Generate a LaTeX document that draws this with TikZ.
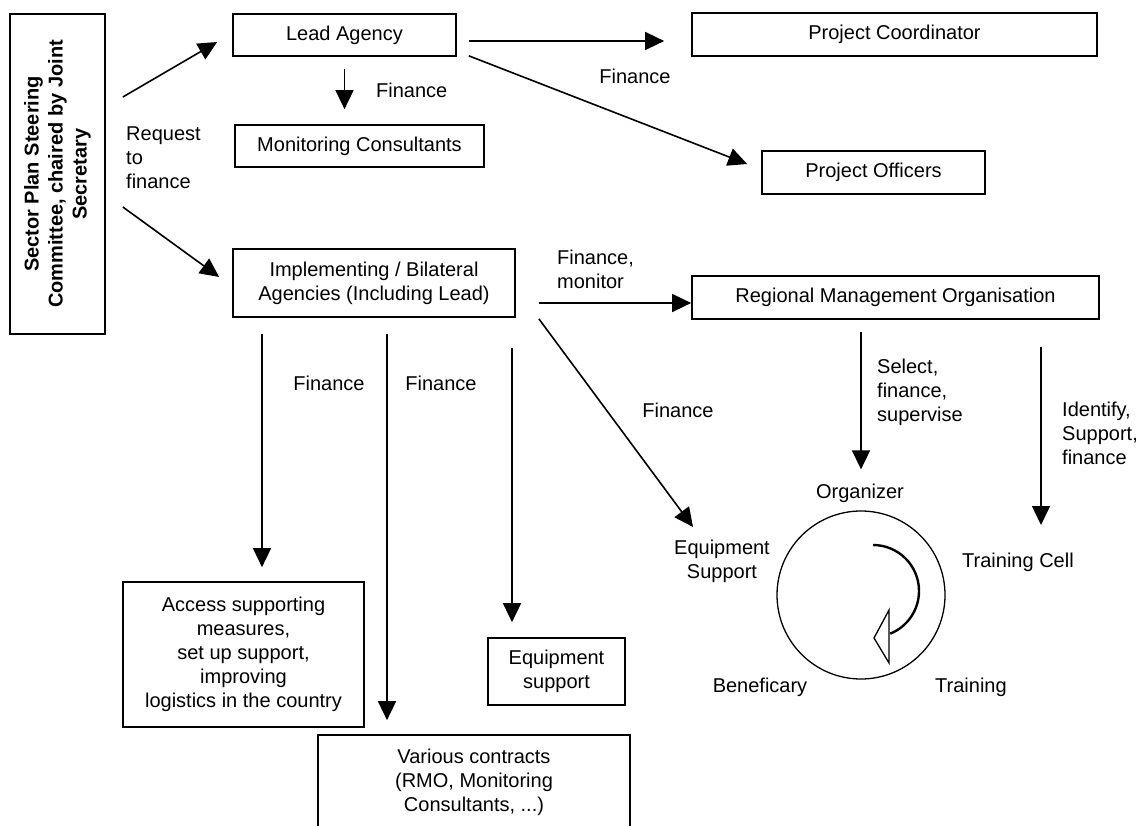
\documentclass[tikz,border=0pt]{standalone}
\usepackage{fontspec}
\setmainfont{Liberation Sans}
\usetikzlibrary{arrows.meta}

\begin{document}
\begin{tikzpicture}[x=1pt, y=-1pt,
  every node/.style={font=\fontsize{20}{24}\selectfont, inner sep=0pt},
  box/.style={draw, line width=1.7pt, align=center},
  flow/.style={line width=1.6pt, -{Triangle[length=19pt,width=18pt]}},
  lbl/.style={align=left}]
  \useasboundingbox (0,0) rectangle (1142,826);
  \node[box, rotate=90, minimum width=320pt, minimum height=95pt, font=\fontsize{20}{24}\selectfont\bfseries] (steer) at (57.5,174) {Sector Plan Steering\\Committee, chaired by Joint\\Secretary};
  \node[box, minimum width=223pt, minimum height=42pt] (lead) at (344.5,35) {Lead Agency};
  \node[box, minimum width=249pt, minimum height=42pt] (moni) at (359.5,146) {Monitoring Consultants};
  \node[box, minimum width=282pt, minimum height=68pt] (impl) at (374,283) {Implementing / Bilateral\\Agencies (Including Lead)};
  \node[box, minimum width=405pt, minimum height=43pt] (coord) at (894.5,34.5) {Project Coordinator};
  \node[box, minimum width=223pt, minimum height=43pt] (offi) at (873.5,172.5) {Project Officers};
  \node[box, minimum width=407pt, minimum height=43pt] (rmo) at (895.5,297.5) {Regional Management Organisation};
  \node[box, minimum width=241pt, minimum height=145pt] (access) at (243.5,654.5) {Access supporting\\measures,\\set up support,\\improving\\logistics in the country};
  \node[box, minimum width=137pt, minimum height=67pt] (equip) at (556.5,671.5) {Equipment\\support};
  \node[box, minimum width=312pt, minimum height=95pt] (contr) at (474,782.5) {Various contracts\\(RMO, Monitoring\\Consultants, ...)};
  \node[draw, circle, line width=1.3pt, minimum size=168pt] (ring) at (861,595) {};

  \node[lbl, anchor=west] (req) at (126,158) {Request\\to\\finance};
  \node[anchor=west] (fa) at (376,90) {Finance};
  \node (fb) at (635,76) {Finance};
  \node[lbl, anchor=west] (fmon) at (557,269) {Finance,\\monitor};
  \node (fc) at (329,383) {Finance};
  \node (fd) at (441,383) {Finance};
  \node (fe) at (678,410) {Finance};
  \node[lbl, anchor=west] (sel) at (877,392) {Select,\\finance,\\supervise};
  \node[lbl, anchor=west] (ident) at (1062,433) {Identify,\\Support,\\finance};
  \node (org) at (860,493) {Organizer};
  \node[align=center] (eqs) at (722,561) {Equipment\\Support};
  \node[anchor=west] (tcell) at (962,562) {Training Cell};
  \node (benef) at (760,687) {Beneficary};
  \node[anchor=west] (train) at (935,687) {Training};

  \coordinate (iA) at ([xshift=-112pt]impl.south);
  \coordinate (iB) at ([xshift=13pt]impl.south);
  \coordinate (iC) at ([xshift=138pt]impl.south);
  \coordinate (rA) at ([xshift=145.5pt]rmo.south);

  \draw[flow] ([shift={(17,-77)}]steer.south) -- ([shift={(-15,7)}]lead.west);
  \draw[flow] ([shift={(17,33)}]steer.south) -- ([shift={(-13,-6)}]impl.west);
  \draw[flow, shorten <=12pt, shorten >=15pt] (lead.south) -- (lead.south |- moni.north);
  \draw[flow] ([shift={(12,6)}]lead.east) -- ([shift={(-27,6.5)}]coord.west);
  \draw[flow] ([shift={(12,-1)}]lead.south east) -- ([shift={(-14,-8.5)}]offi.west);
  \draw[flow] ([shift={(23,20)}]impl.east) -- ([yshift=-5.5pt]rmo.west);
  \draw[flow] ([shift={(23,1)}]impl.south east) -- ([shift={(-29,-34)}]eqs.center);
  \draw[flow, shorten <=16pt, shorten >=14pt] (iA) -- (iA |- access.north);
  \draw[flow, shorten <=16pt, shorten >=14pt] (iB) -- (iB |- contr.north);
  \draw[flow, shorten <=30pt, shorten >=15pt] (iC) -- (iC |- equip.north);
  \draw[flow, shorten <=12pt, shorten >=41pt] (ring.north |- rmo.south) -- (ring.north);
  \draw[flow, shorten <=27pt, shorten >=37pt] (rA) -- (rA |- tcell.center);

  \draw[line width=2.4pt] ([shift={(12,-50)}]ring.center) arc[start angle=-90, end angle=68, radius=46];
  \draw[line width=1.3pt, fill=white] ([shift={(28,15)}]ring.center) -- ([shift={(13,43)}]ring.center) -- ([shift={(28,68)}]ring.center) -- cycle;
\end{tikzpicture}
\end{document}
